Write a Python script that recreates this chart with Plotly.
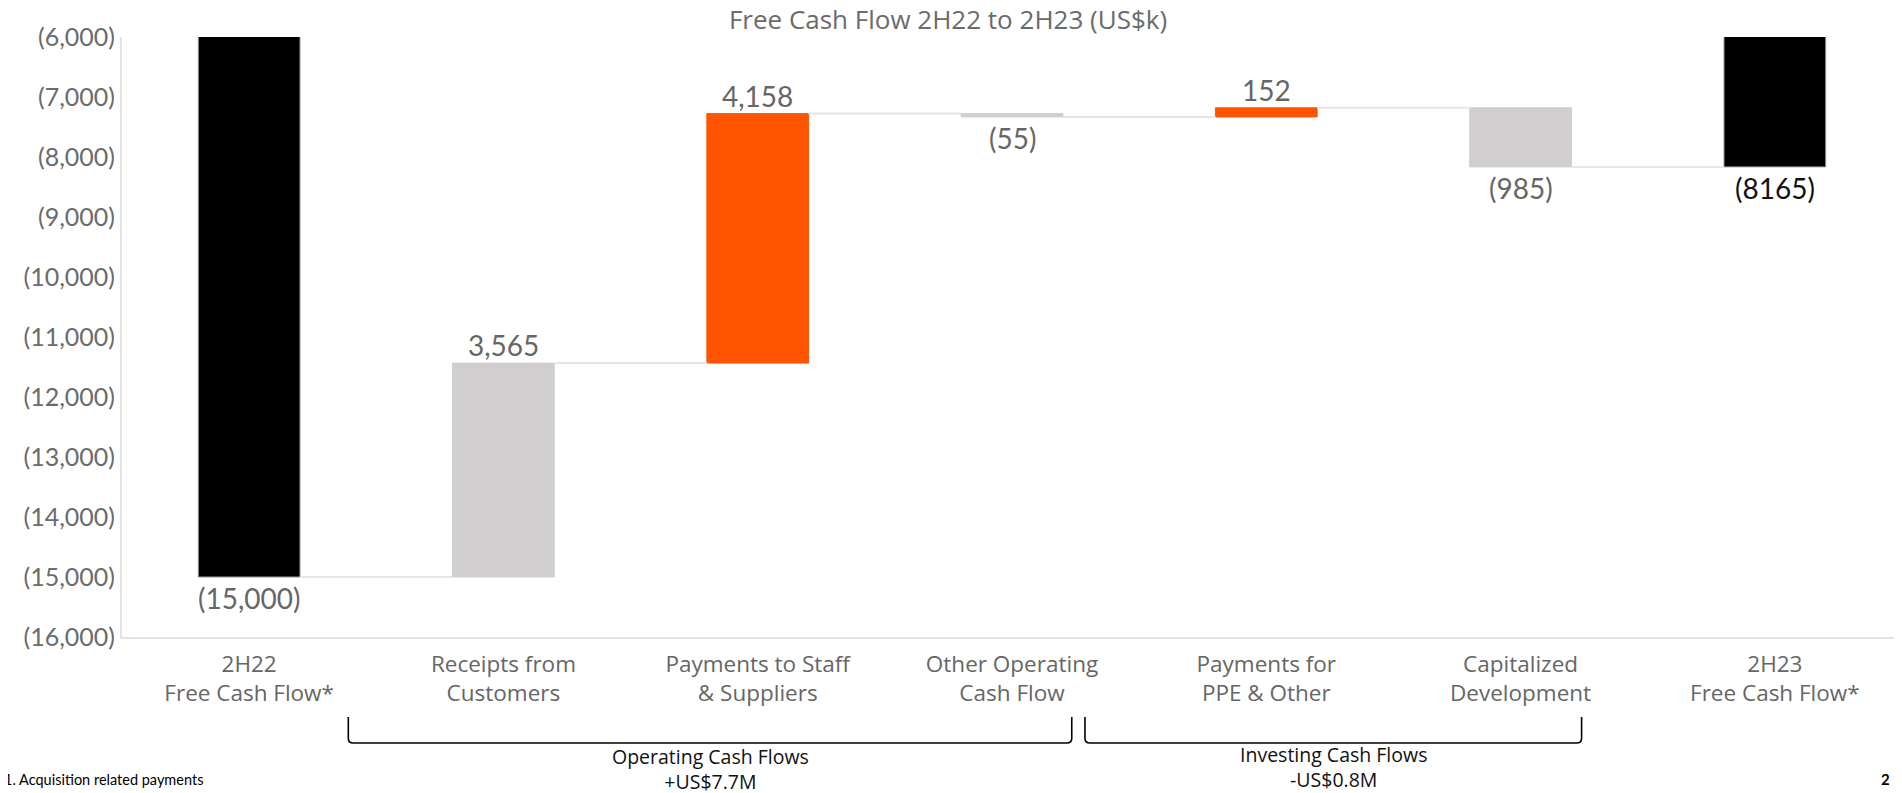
import plotly.graph_objects as go

# ---- data ----
categories = ["2H22<br>Free Cash Flow*", "Receipts from<br>Customers",
              "Payments to Staff<br>& Suppliers", "Other Operating<br>Cash Flow",
              "Payments for<br>PPE & Other", "Capitalized<br>Development",
              "2H23<br>Free Cash Flow*"]
measures = ["absolute", "relative", "relative", "relative", "relative", "relative", "total"]
values = [-15000, 3565, 4158, -55, 152, -985, -8165]
value_labels = ["(15,000)", "3,565", "4,158", "(55)", "152", "(985)", "(8165)"]
bar_colors = ["#000000", "#D0CECE", "#FF5500", "#D0CECE", "#FF5500", "#D0CECE", "#000000"]
label_colors = ["#666666"] * 6 + ["#111111"]
y_ticks = list(range(-16000, -5000, 1000))
y_ticktext = [f"({abs(v):,})" for v in y_ticks]

groups = [
    {"text": "Operating Cash Flows<br>+US$7.7M", "x0": 0.39, "x1": 3.235, "mid_px": 769},
    {"text": "Investing Cash Flows<br>-US$0.8M", "x0": 3.287, "x1": 5.24, "mid_px": 767},
]
title_text = "Free Cash Flow 2H22 to 2H23 (US$k)"
footnote = "1. Acquisition related payments"
page_no = "2"

# ---- waterfall geometry from the data ----
bases, heights, levels = [], [], []
running = 0
for m, v in zip(measures, values):
    if m == "absolute":
        b, h = 0, v
        running = v
    elif m == "relative":
        b, h = running, v
        running += v
    else:
        b, h = 0, running
    bases.append(b)
    heights.append(h)
    levels.append(running)

BAR_W = 0.40
xs = list(range(len(categories)))

# layout pixel frame (page body has an 8px margin, compensate)
OFF = 8
W, H = 1902, 793
ML, MR, MT, MB = 122 - OFF, OFF, 37 - OFF, 793 - (637 - OFF)
PH = H - MT - MB
PW = W - ML - MR


def py(px_page):
    """page pixel y from top -> paper y"""
    return (H - MB - (px_page - OFF)) / PH


def px(px_page):
    """page pixel x from left -> paper x"""
    return (px_page - OFF - ML) / PW


fig = go.Figure()

for i in range(len(categories) - 1):
    fig.add_trace(go.Scatter(
        x=[i + BAR_W / 2, i + 1 - BAR_W / 2], y=[levels[i], levels[i]],
        mode="lines", line=dict(color="#E6E6E6", width=2),
        hoverinfo="skip", showlegend=False))

line_cols = ["#9A9A9A" if c == "#000000" else c for c in bar_colors]
fig.add_trace(go.Bar(
    x=xs, y=heights, base=bases, width=BAR_W,
    marker=dict(color=bar_colors, line=dict(color=line_cols, width=1)),
    showlegend=False, hoverinfo="skip"))

FONT = "Lato"
annotations = []
for i, (b, h) in enumerate(zip(bases, heights)):
    end = b + h
    pos = h > 0 and measures[i] == "relative"
    annotations.append(dict(
        x=i, y=end, xref="x", yref="y", text=value_labels[i], showarrow=False,
        yanchor="bottom" if pos else "top", yshift=-1 if pos else -2,
        font=dict(family=FONT, size=28, color=label_colors[i])))

shapes = []
y_top, y_bot = py(717), py(743)
for g in groups:
    x0, x1 = g["x0"], g["x1"]
    d = 0.02
    c = 0.008
    path = (f"M {x0},{y_top} L {x0},{y_bot + c} Q {x0},{y_bot} {x0 + d},{y_bot} "
            f"L {x1 - d},{y_bot} Q {x1},{y_bot} {x1},{y_bot + c} L {x1},{y_top}")
    shapes.append(dict(type="path", path=path, xref="x", yref="paper",
                       line=dict(color="#000000", width=1.6)))
    annotations.append(dict(
        x=(x0 + x1) / 2, y=py(g["mid_px"]), xref="x", yref="paper",
        text=g["text"], showarrow=False, yanchor="middle", align="center",
        font=dict(family="Open Sans", size=19.5, color="#111111")))

annotations.append(dict(
    x=px(2), y=py(779), xref="paper", yref="paper", text=footnote,
    showarrow=False, xanchor="left", yanchor="middle",
    font=dict(family=FONT, size=14.5, color="#000000")))
annotations.append(dict(
    x=px(1879), y=py(779), xref="paper", yref="paper", text=f"<b>{page_no}</b>",
    showarrow=False, xanchor="left", yanchor="middle",
    font=dict(family=FONT, size=15, color="#000000")))

fig.update_layout(
    width=W, height=H,
    margin=dict(l=ML, r=MR, t=MT, b=MB, autoexpand=False),
    paper_bgcolor="white", plot_bgcolor="white",
    title=dict(text=title_text, x=(948 - OFF) / W, xanchor="center",
               y=1 - (20 - OFF) / H, yanchor="middle",
               font=dict(family="Open Sans", size=26, color="#6B6B6B")),
    xaxis=dict(range=[-0.5, 6.5], tickmode="array", tickvals=xs, ticktext=categories,
               showgrid=False, zeroline=False, showline=True, linecolor="#E3E3E3",
               linewidth=2, ticks="", automargin=False, ticklabelstandoff=6,
               tickfont=dict(family="Open Sans", size=22.5, color="#666666")),
    yaxis=dict(range=[-16000, -6000], tickmode="array", tickvals=y_ticks,
               ticktext=y_ticktext, showgrid=False, zeroline=False, showline=True,
               linecolor="#E3E3E3", linewidth=2, ticks="", automargin=False,
               tickfont=dict(family=FONT, size=25, color="#6B6B6B")),
    shapes=shapes, annotations=annotations,
)

fig.write_html("out.html")
